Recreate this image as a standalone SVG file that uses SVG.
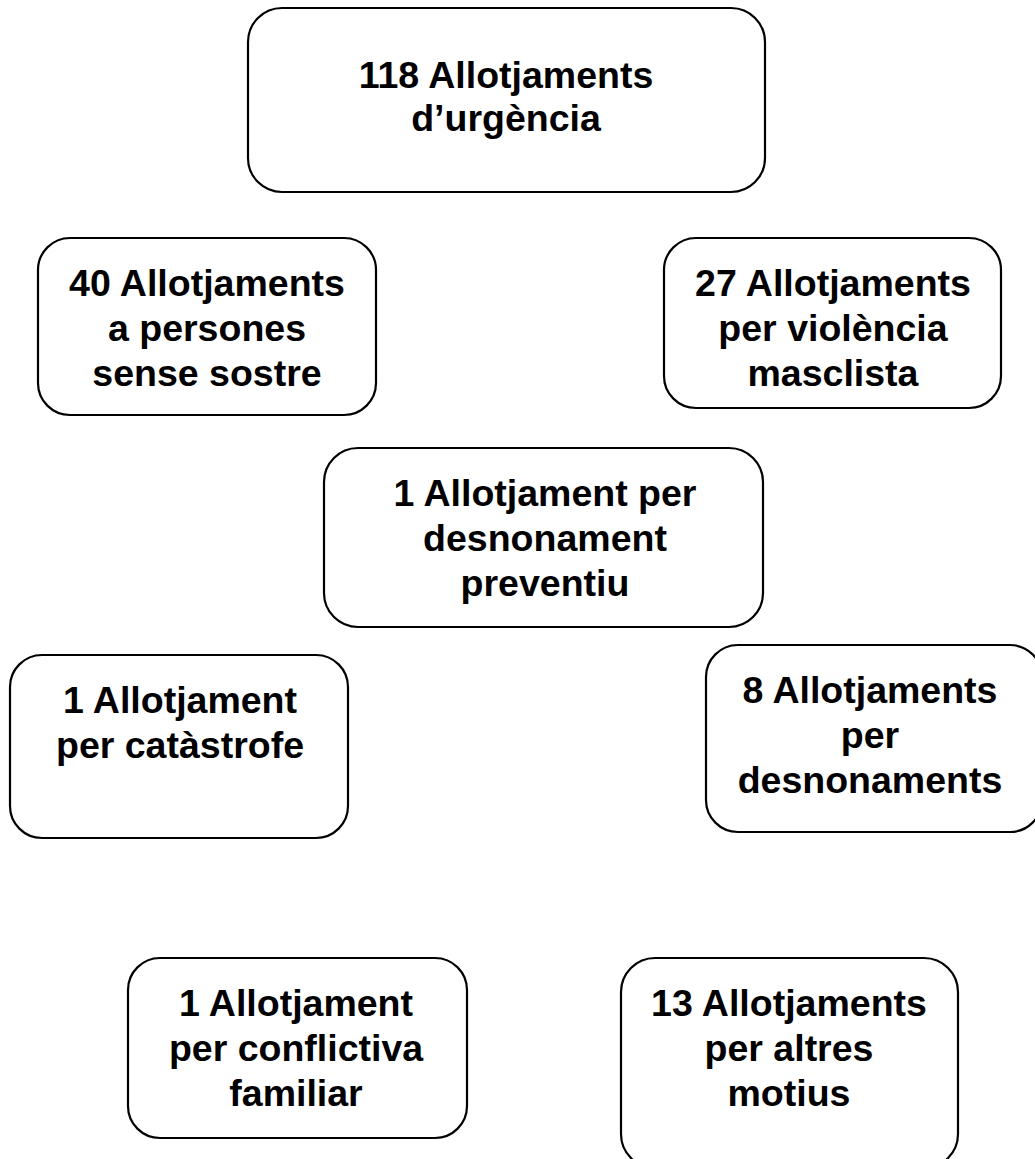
<svg xmlns="http://www.w3.org/2000/svg" width="1035" height="1159" viewBox="0 0 1035 1159">
<style>
.box{fill:#fff;stroke:#000;stroke-width:2.2}
.t{font-family:"Liberation Sans",Arial,sans-serif;font-weight:bold;font-size:37.5px;text-anchor:middle;fill:#000}
</style>
<rect width="1035" height="1159" fill="#fff"/>
<g id="connectors"></g>
<g id="n1"><rect class="box" x="248" y="8" width="517" height="184" rx="34"/>
<text class="t" x="506" y="88">118 Allotjaments</text><text class="t" x="506" y="131">d’urgència</text></g>
<g id="n2"><rect class="box" x="38" y="238" width="338" height="177" rx="32"/>
<text class="t" x="207" y="296">40 Allotjaments</text><text class="t" x="207" y="341">a persones</text><text class="t" x="207" y="386">sense sostre</text></g>
<g id="n3"><rect class="box" x="664" y="238" width="337" height="170" rx="32"/>
<text class="t" x="833" y="296">27 Allotjaments</text><text class="t" x="833" y="341">per violència</text><text class="t" x="833" y="386">masclista</text></g>
<g id="n4"><rect class="box" x="324" y="448" width="439" height="179" rx="34"/>
<text class="t" x="545" y="506">1 Allotjament per</text><text class="t" x="545" y="551">desnonament</text><text class="t" x="545" y="596">preventiu</text></g>
<g id="n5"><rect class="box" x="10" y="655" width="338" height="183" rx="32"/>
<text class="t" x="180" y="713">1 Allotjament</text><text class="t" x="180" y="758">per catàstrofe</text></g>
<g id="n6"><rect class="box" x="706" y="645" width="336" height="187" rx="32"/>
<text class="t" x="870" y="703">8 Allotjaments</text><text class="t" x="870" y="748">per</text><text class="t" x="870" y="793">desnonaments</text></g>
<g id="n7"><rect class="box" x="128" y="958" width="339" height="180" rx="32"/>
<text class="t" x="296" y="1016">1 Allotjament</text><text class="t" x="296" y="1061">per conflictiva</text><text class="t" x="296" y="1106">familiar</text></g>
<g id="n8"><rect class="box" x="621" y="958" width="337" height="210" rx="34"/>
<text class="t" x="789" y="1016">13 Allotjaments</text><text class="t" x="789" y="1061">per altres</text><text class="t" x="789" y="1106">motius</text></g>
</svg>
